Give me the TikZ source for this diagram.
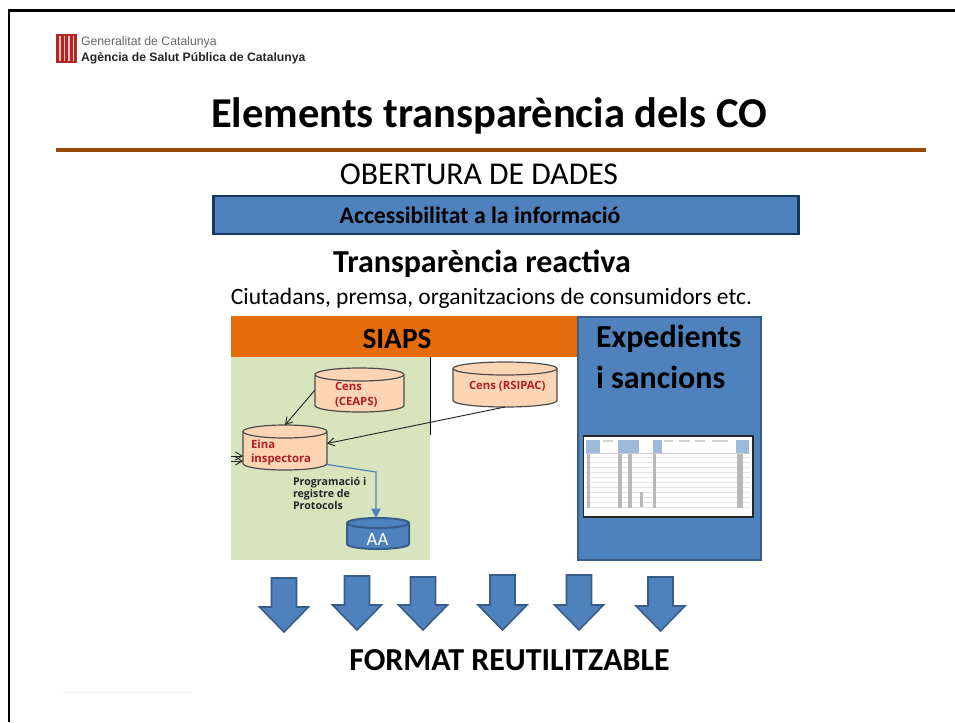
\documentclass[tikz,border=0pt]{standalone}
\usepackage{fontspec}
\setmainfont{Carlito}
\newfontfamily\hdfont{Liberation Sans}
\newfontfamily\smfont{Open Sans}
\usetikzlibrary{shapes.geometric,arrows.meta}
\definecolor{blueF}{HTML}{4F81BD}
\definecolor{blueD}{HTML}{385D8A}
\definecolor{navy}{HTML}{17375E}
\definecolor{rule}{HTML}{984807}
\definecolor{orangeB}{HTML}{E46C0A}
\definecolor{greenB}{HTML}{D7E4BD}
\definecolor{peach}{HTML}{FCD5B5}
\definecolor{cylred}{HTML}{B01E23}
\newcommand{\fs}[1]{\fontsize{#1pt}{#1pt}\selectfont}
% name, x0, y0, x1, y1, ry, style
\newcommand{\cylnode}[7]{%
 \pgfmathsetmacro{\cxm}{(#2+#4)/2}\pgfmathsetmacro{\cym}{(#3+#5)/2}%
 \pgfmathsetmacro{\kx}{(#4-#2)/2*0.55}\pgfmathsetmacro{\ky}{#6*0.55}%
 \pgfmathsetmacro{\ytop}{#3+#6}\pgfmathsetmacro{\ybot}{#5-#6}%
 \path[#7] (#2,\ytop) -- (#2,\ybot) .. controls (#2,\ybot+\ky) and (\cxm-\kx,#5) .. (\cxm,#5) .. controls (\cxm+\kx,#5) and (#4,\ybot+\ky) .. (#4,\ybot) -- (#4,\ytop)
   .. controls (#4,\ytop-\ky) and (\cxm+\kx,#3) .. (\cxm,#3) .. controls (\cxm-\kx,#3) and (#2,\ytop-\ky) .. (#2,\ytop) -- cycle;
 \path[#7] (#2,\ytop) .. controls (#2,\ytop+\ky) and (\cxm-\kx,\ytop+#6) .. (\cxm,\ytop+#6) .. controls (\cxm+\kx,\ytop+#6) and (#4,\ytop+\ky) .. (#4,\ytop);
 \pgfmathsetmacro{\cw}{(#4-#2)*0.75}\pgfmathsetmacro{\ch}{(#5-#3)*0.75}%
 \node[inner sep=0pt,outer sep=0pt,minimum width=\cw pt,minimum height=\ch pt] (#1) at (\cxm,\cym) {};%
}
\tikzset{
 x=0.75pt,y=-0.75pt,
 tx/.style={inner sep=0pt,outer sep=0pt,text=black},
 cylp/.style={draw=black!70,line width=0.9pt,fill=peach},
 cylb/.style={draw=blueD,line width=1.5pt,fill=blueF},
 cyltext/.style={tx,anchor=west,text=cylred,align=left,font=\smfont\bfseries\fs{8.5}},
 thinarrow/.style={draw=black!85,line width=0.7pt,-{Straight Barb[length=5pt,width=6pt]}},
 blockarrow/.style={fill=blueF,draw=blueD,line width=1.2pt,line join=miter},
 tcell/.style={fill=blueF!55!white,draw=none},
 tcol/.style={fill=black!28,draw=none},
 tline/.style={draw=black!10,line width=0.4pt}
}
\begin{document}
\begin{tikzpicture}
\useasboundingbox (0,0) rectangle (955,722);
\fill[white] (0,0) rectangle (955,722);
% frame
\draw[black,line width=1.6pt] (9,722) -- (9,10.5) -- (955,10.5);
% logo
\fill[red!65!black!85!white] (56,34) rectangle (77,63);
\foreach \sx in {59,63.5,68,72.5}{\fill[white!75!red] (\sx,36) rectangle (\sx+1.6,61);}
\node[tx,anchor=west,text=black!60,font=\hdfont\fs{9.2}] (gen) at (81,42) {Generalitat de Catalunya};
\node[tx,anchor=west,text=black!85,font=\hdfont\bfseries\fs{9.15}] (agen) at (81,58) {Agència de Salut Pública de Catalunya};
% title
\node[tx,font=\bfseries\fs{31.9}] (title) at (489,116) {Elements transparència dels CO};
\draw[rule,line width=3pt] (56,150) -- (926,150);
\node[tx,font=\fs{23.8}] (obert) at (479,174) {OBERTURA DE DADES};
\node[draw=navy,fill=blueF,line width=1.6pt,minimum width=585*0.75pt,minimum height=38*0.75pt,inner sep=0pt] (acc) at (506,215) {};
\node[tx,font=\bfseries\fs{17.8}] (acct) at (480,215) {Accessibilitat a la informació};
\node[tx,font=\bfseries\fs{24}] (react) at (482,264) {Transparència reactiva};
\node[tx,font=\fs{17.6}] (ciut) at (491.5,298) {Ciutadans, premsa, organitzacions de consumidors etc.};
% SIAPS panels
\fill[greenB] (231,357) rectangle (430,560);
\fill[orangeB] (231,316) rectangle (580,357);
\draw[black,line width=0.8pt] (430.5,357) -- (430.5,435);
\node[tx,font=\bfseries\fs{22}] (siaps) at (397,339) {SIAPS};
% Expedients
\fill[blueF,draw=blueD,line width=1.5pt] (578,317) rectangle (761,560);
\node[tx,anchor=west,font=\bfseries\fs{24}] (exp) at (596,339) {Expedients};
\node[tx,anchor=west,font=\bfseries\fs{24}] (san) at (596,377) {i sancions};
% table
\fill[white,draw=black!85,line width=0.8pt] (583.5,436) rectangle (753,517);
\foreach \ly in {457,462,...,507}{\draw[tline] (586,\ly) -- (750,\ly);}
\foreach \ca/\cb in {586/600,618/639,653/662,736/749}{\fill[tcell] (\ca,440) rectangle (\cb,453);}
\draw[black!20,line width=1pt] (586,453.5) -- (750,453.5);
\foreach \ca/\cb in {587/590,618/622,628/632,653/656,737/743}{\fill[tcol] (\ca,454) rectangle (\cb,508);}
\fill[tcol] (640,492) rectangle (643,507);
\foreach \ca/\cb in {603/613,664/673,679/690,695/705,712/728}{\fill[black!18] (\ca,440) rectangle (\cb,442);}
% cylinders
\cylnode{ceaps}{315}{368}{404}{412}{6.5}{cylp}
\cylnode{rsipac}{453}{362}{557}{407}{6.5}{cylp}
\cylnode{eina}{243}{425}{327}{470}{6.5}{cylp}
\cylnode{aa}{347}{518}{409}{549}{5}{cylb}
\node[cyltext] (t1) at (335,394.5) {Cens\\[2.5pt](CEAPS)};
\node[cyltext] (t2) at (469,386) {Cens (RSIPAC)};
\node[cyltext] (t3) at (251,452.5) {Eina\\[2.5pt]inspectora};
\node[tx,text=white,font=\fs{14}] (t4) at (377.5,539) {AA};
\node[tx,anchor=west,align=left,text=black!85,font=\smfont\bfseries\fs{8}] (prog) at (293,493.5) {Programació i\\[0.8pt]registre de\\[0.8pt]Protocols};
% connectors
\coordinate (in1) at (231,456);
\coordinate (in2) at (231,461);
\draw[thinarrow] (ceaps.west) -- (eina.north);
\draw[thinarrow] (rsipac.south) -- ([yshift=4*0.75pt]eina.east);
\draw[thinarrow] (in1) -- (eina.west |- in1);
\draw[thinarrow] (in2) -- (eina.west |- in2);
\coordinate (bend) at (376,472);
\draw[blueF,line width=0.9pt,-{Triangle[length=7pt,width=7pt]}] ([yshift=-17*0.75pt]eina.east) -- (bend) -- (bend |- aa.north);
% block arrows
\foreach \cx/\ty/\by in {284/578/632,357/576/630,423/577/630,502.5/575/630,579/575/630,660.5/577/631}{
 \draw[blockarrow] (\cx-12.5,\ty) -- (\cx+12.5,\ty) -- (\cx+12.5,\by-25) -- (\cx+24.5,\by-25) -- (\cx,\by) -- (\cx-24.5,\by-25) -- (\cx-12.5,\by-25) -- cycle;
}
\node[tx,font=\bfseries\fs{24}] (fmt) at (509.5,660) {FORMAT REUTILITZABLE};
\draw[black!6,line width=0.6pt] (62,692) -- (192,692);
\end{tikzpicture}
\end{document}
